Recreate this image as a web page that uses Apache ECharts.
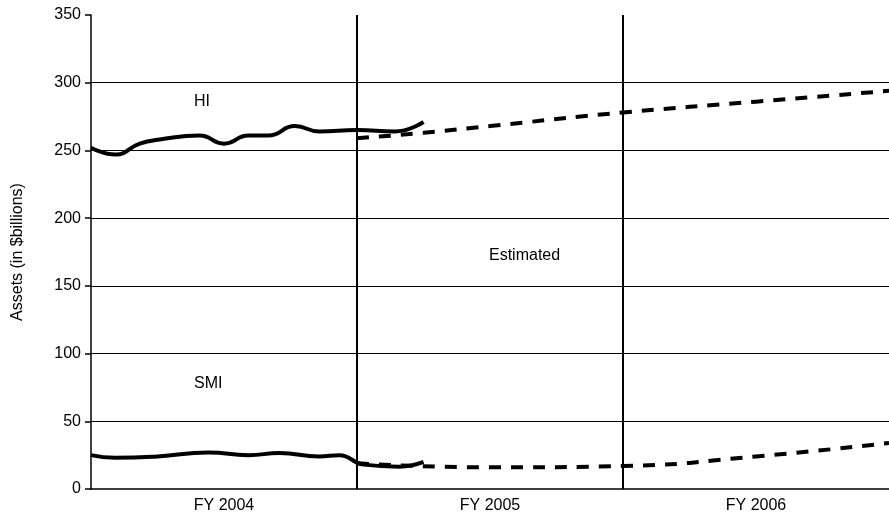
<!DOCTYPE html><html><head><meta charset="utf-8">
<script src="https://cdn.jsdelivr.net/npm/echarts@6/dist/echarts.min.js"></script>
<style>html,body{margin:0;padding:0;background:#fff}#c{width:889px;height:521px}</style></head><body><div id="c"></div>
<script>
const years=['FY 2004','FY 2005','FY 2006'];
const hiActual=[[0,252],[1.1,247],[2.2,255],[3.1,258],[4.9,261],[6,255],[7.1,261],[8,261],[9.2,268],[10.3,264],[12,265],[13.7,264],[15,271]];
const hiEst=[[12,259],[15,263],[18,268],[24,278],[30,286],[36,294]];
const smiActual=[[0,25],[1.1,23],[3,24],[5.3,27],[7.1,25],[8.5,26.5],[10.3,24],[11.2,25],[12.3,18],[13.9,16.5],[15,20]];
const smiEst=[[12,19],[18,16],[24,17],[30,24],[36,34]];
const F='Liberation Sans, Arial, sans-serif';
const chart=echarts.init(document.getElementById('c'));
const ln=(d,dash)=>({type:'line',xAxisIndex:1,data:d,smooth:true,symbol:'none',lineStyle:{color:'#000',width:4,type:dash?[12,10]:'solid'}});
chart.setOption({
 animation:false,
 grid:{left:91,right:0,top:15,bottom:32},
 xAxis:[{type:'category',data:years,boundaryGap:true,axisLine:{lineStyle:{color:'#000',width:1.5}},axisTick:{show:false},
   axisLabel:{color:'#000',fontFamily:F,fontSize:16,margin:9},splitLine:{show:true,showMinLine:false,showMaxLine:false,lineStyle:{color:'#000',width:2}}},
  {type:'value',min:0,max:36,show:false}],
 yAxis:{type:'value',min:0,max:350,interval:50,name:'Assets (in $billions)',nameLocation:'middle',nameGap:65,
   nameTextStyle:{color:'#000',fontFamily:F,fontSize:16},
   axisLine:{show:true,lineStyle:{color:'#000',width:1.5}},axisTick:{show:true,length:6,lineStyle:{color:'#000',width:1.5}},
   axisLabel:{color:'#000',fontFamily:F,fontSize:16,margin:10},splitLine:{showMinLine:false,showMaxLine:false,lineStyle:{color:'#000',width:1}}},
 series:[ln(hiActual),ln(hiEst,true),ln(smiActual),ln(smiEst,true)],
 graphic:[
  {type:'text',left:194,top:94,style:{text:'HI',font:'16px '+F,fill:'#000'}},
  {type:'text',left:194,top:376,style:{text:'SMI',font:'16px '+F,fill:'#000'}},
  {type:'text',left:489,top:248,style:{text:'Estimated',font:'16px '+F,fill:'#000'}}
 ]
});
</script></body></html>
